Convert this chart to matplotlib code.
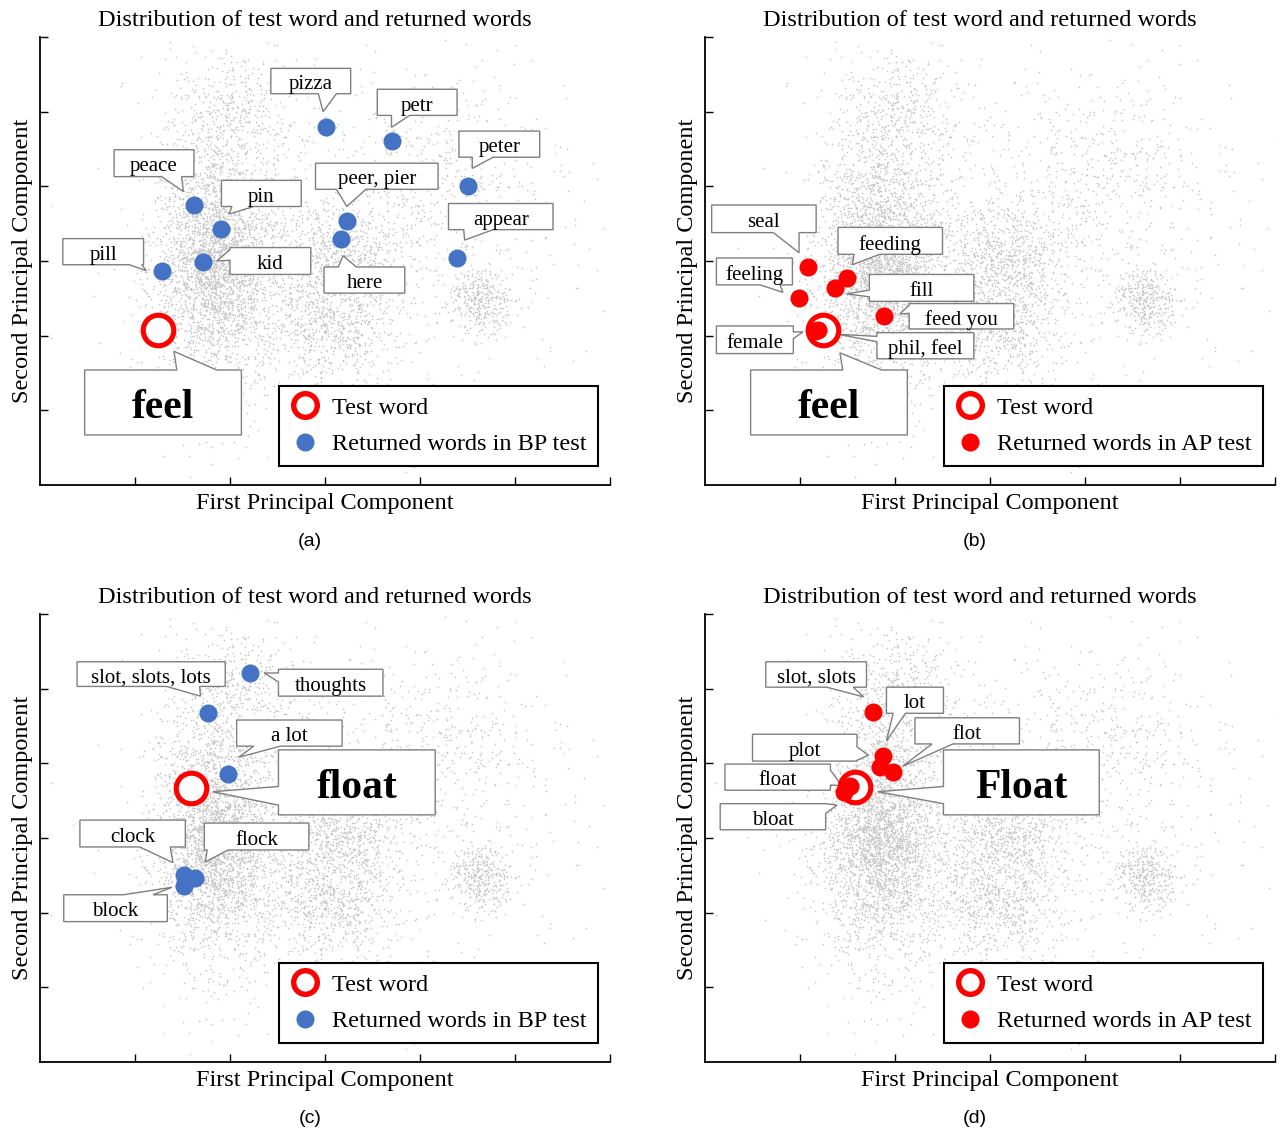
import numpy as np
import matplotlib.pyplot as plt
from matplotlib.lines import Line2D
from matplotlib.patches import Polygon

plt.rcParams['font.family'] = ['Liberation Serif', 'DejaVu Serif']

# background word cloud: cluster centres / spreads / counts in PCA space
cloud_cx = [1.85, 1.90, 3.20, 3.00, 4.65, 3.20, 4.30, 2.10]
cloud_cy = [3.10, 2.90, 3.00, 2.10, 2.45, 3.30, 4.30, 5.00]
cloud_sx = [0.35, 0.25, 0.35, 0.35, 0.18, 1.10, 0.60, 0.30]
cloud_sy = [1.00, 0.45, 0.45, 0.35, 0.22, 1.10, 0.60, 0.40]
cloud_n = [2200, 900, 750, 550, 350, 700, 350, 300]

# test words
test_a = ("feel", 1.24, 2.08)
test_b = ("feel", 1.24, 2.08)
test_c = ("float", 1.59, 3.67)
test_d = ("Float", 1.58, 3.68)

# returned words
a_words = ["pill", "kid", "peace", "pin", "pizza", "petr", "peer, pier", "here", "peter", "appear"]
a_x = [1.28, 1.72, 1.62, 1.91, 3.01, 3.70, 3.23, 3.17, 4.51, 4.39]
a_y = [2.86, 2.99, 3.75, 3.43, 4.79, 4.61, 3.53, 3.30, 4.00, 3.04]

b_words = ["seal", "feeding", "fill", "feeling", "feed you", "female", "phil, feel"]
b_x = [1.08, 1.49, 1.37, 0.99, 1.88, 1.16, 1.19]
b_y = [2.92, 2.77, 2.64, 2.50, 2.26, 2.06, 2.08]

c_words = ["thoughts", "slot, slots, lots", "a lot", "clock", "flock", "block"]
c_x = [2.21, 1.77, 1.98, 1.52, 1.63, 1.52]
c_y = [5.21, 4.68, 3.86, 2.51, 2.47, 2.36]

d_words = ["slot, slots", "lot", "plot", "flot", "float", "bloat"]
d_x = [1.77, 1.87, 1.84, 1.98, 1.53, 1.46]
d_y = [4.69, 4.10, 3.95, 3.89, 3.69, 3.61]

# callout layout: box (xl, xr, yb, yt), side of the pointer, pointer base, pointer tip
a_boxes = {
    "pizza": ((2.43, 3.27, 5.24, 5.58), "bottom", (2.93, 3.12), (2.98, 5.00)),
    "petr": ((3.55, 4.39, 4.95, 5.30), "bottom", (3.70, 3.89), (3.70, 4.79)),
    "peter": ((4.41, 5.26, 4.39, 4.74), "bottom", (4.55, 4.77), (4.55, 4.24)),
    "peer, pier": ((2.90, 4.19, 3.96, 4.31), "bottom", (3.12, 3.43), (3.23, 3.73)),
    "appear": ((4.30, 5.40, 3.42, 3.77), "bottom", (4.46, 4.77), (4.47, 3.28)),
    "here": ((2.99, 3.84, 2.57, 2.92), "top", (3.14, 3.33), (3.19, 3.07)),
    "peace": ((0.78, 1.62, 4.13, 4.49), "bottom", (1.28, 1.49), (1.51, 3.93)),
    "pin": ((1.91, 2.75, 3.73, 4.08), "bottom", (2.02, 2.25), (1.99, 3.63)),
    "pill": ((0.24, 1.09, 2.95, 3.30), "bottom", (0.94, 1.07), (1.12, 2.87)),
    "kid": ((2.00, 2.85, 2.82, 3.18), "left", (3.15, 3.01), (1.86, 3.00)),
}
a_big = ((0.47, 2.12, 0.67, 1.54), "top", (1.44, 1.86), (1.41, 1.79))

b_boxes = {
    "seal": ((0.07, 1.17, 3.38, 3.75), "bottom", (0.72, 0.99), (0.99, 3.11)),
    "feeding": ((1.40, 2.50, 3.09, 3.45), "bottom", (1.57, 1.84), (1.55, 2.95)),
    "feeling": ((0.12, 0.92, 2.68, 3.04), "bottom", (0.58, 0.79), (0.82, 2.58)),
    "fill": ((1.73, 2.83, 2.46, 2.82), "left", (2.61, 2.52), (1.49, 2.56)),
    "feed you": ((2.15, 3.25, 2.09, 2.43), "left", (2.41, 2.30), (2.05, 2.29)),
    "female": ((0.12, 0.93, 1.76, 2.13), "right", (2.05, 1.96), (1.03, 2.05)),
    "phil, feel": ((1.81, 2.83, 1.69, 2.04), "left", (1.99, 1.92), (1.39, 2.02)),
}
b_big = ((0.48, 2.13, 0.67, 1.54), "top", (1.45, 1.86), (1.42, 1.77))

c_boxes = {
    "slot, slots, lots": ((0.39, 1.95, 5.03, 5.36), "bottom", (1.33, 1.68), (1.69, 4.90)),
    "thoughts": ((2.51, 3.61, 4.90, 5.26), "left", (5.21, 5.09), (2.36, 5.21)),
    "a lot": ((2.07, 3.18, 4.23, 4.58), "bottom", (2.25, 2.53), (2.09, 4.08)),
    "clock": ((0.42, 1.53, 2.88, 3.24), "bottom", (1.05, 1.37), (1.40, 2.67)),
    "flock": ((1.73, 2.83, 2.84, 3.20), "bottom", (1.76, 1.98), (1.74, 2.68)),
    "block": ((0.25, 1.34, 1.88, 2.24), "top", (0.88, 1.19), (1.39, 2.34)),
}
c_big = ((2.51, 4.16, 3.31, 4.18), "left", (3.69, 3.44), (1.82, 3.62))

d_boxes = {
    "slot, slots": ((0.64, 1.70, 5.02, 5.36), "bottom", (1.28, 1.56), (1.67, 4.89)),
    "lot": ((1.91, 2.51, 4.67, 5.02), "bottom", (1.98, 2.11), (1.91, 4.30)),
    "flot": ((2.21, 3.31, 4.26, 4.61), "bottom", (2.39, 2.61), (2.08, 3.96)),
    "plot": ((0.50, 1.60, 4.03, 4.39), "right", (4.22, 4.04), (1.72, 4.11)),
    "float": ((0.21, 1.32, 3.64, 3.99), "right", (3.91, 3.71), (1.44, 3.70)),
    "bloat": ((0.16, 1.27, 3.11, 3.46), "right", (3.46, 3.33), (1.39, 3.44)),
}
d_big = ((2.51, 4.15, 3.31, 4.18), "left", (3.69, 3.46), (1.82, 3.62))

BLUE = '#4472C4'
RED = '#FF0000'

rng = np.random.default_rng(7)
cloud_x, cloud_y = [], []
for cx, cy, sx, sy, n in zip(cloud_cx, cloud_cy, cloud_sx, cloud_sy, cloud_n):
    cloud_x.append(rng.normal(cx, sx, n))
    cloud_y.append(rng.normal(cy, sy, n))
cloud_x = np.concatenate(cloud_x)
cloud_y = np.concatenate(cloud_y)


def callout(ax, text, box, side, base, tip, size=15, weight='normal', dy=0.05):
    xl, xr, yb, yt = box
    b1, b2 = base
    if side == 'bottom':
        verts = [(xl, yt), (xr, yt), (xr, yb), (b2, yb), tip, (b1, yb), (xl, yb)]
    elif side == 'top':
        verts = [(xl, yb), (xr, yb), (xr, yt), (b2, yt), tip, (b1, yt), (xl, yt)]
    elif side == 'left':
        verts = [(xr, yt), (xr, yb), (xl, yb), (xl, b2), tip, (xl, b1), (xl, yt)]
    else:
        verts = [(xl, yt), (xl, yb), (xr, yb), (xr, b2), tip, (xr, b1), (xr, yt)]
    ax.add_patch(Polygon(verts, closed=True, fc='white', ec='#7f7f7f', lw=1.0,
                         joinstyle='miter', zorder=3))
    ax.text((xl + xr) / 2, (yb + yt) / 2 - dy, text, ha='center', va='center',
            fontsize=size, fontweight=weight, zorder=3.5)


def panel(ax, test, words, xs, ys, boxes, big, color, method, tag):
    ax.scatter(cloud_x, cloud_y, s=1.4, c='#c6c6c6', linewidths=0, zorder=1,
               rasterized=True)
    for w in words:
        callout(ax, w, *boxes[w])
    callout(ax, test[0], *big, size=30, weight='bold', dy=0.08)
    ax.plot(test[1], test[2], 'o', ms=22, mfc='white', mec=RED, mew=3.7, zorder=4)
    ax.plot(xs, ys, 'o', ls='none', ms=13, mfc=color, mec='none', zorder=5)

    ax.set_xlim(0, 6)
    ax.set_ylim(0, 6)
    ax.set_xticks(range(1, 7))
    ax.set_yticks(range(1, 7))
    ax.tick_params(direction='in', length=6, width=1, labelbottom=False, labelleft=False)
    for s in ['top', 'right']:
        ax.spines[s].set_visible(False)
    for s in ['left', 'bottom']:
        ax.spines[s].set_linewidth(1.3)
    ax.set_title("Distribution of test word and returned words", fontsize=17.5, pad=8,
                 x=0.483)
    ax.set_xlabel("First Principal Component", fontsize=17.5, labelpad=6)
    ax.set_ylabel("Second Principal Component", fontsize=17.5, labelpad=5)

    handles = [
        Line2D([], [], marker='o', ls='none', ms=17, mfc='white', mec=RED, mew=3.9),
        Line2D([], [], marker='o', ls='none', ms=13, mfc=color, mec='none'),
    ]
    leg = ax.legend(handles, ["Test word", "Returned words in %s test" % method],
                    loc='lower right', bbox_to_anchor=(0.979, 0.042), fontsize=17.5,
                    frameon=True, fancybox=False, edgecolor='black', framealpha=1,
                    borderpad=0.45, labelspacing=0.6, handlelength=1.2,
                    handletextpad=0.55, borderaxespad=0)
    leg.get_frame().set_linewidth(1.5)
    leg.set_zorder(6)

    pos = ax.get_position()
    fig.text(pos.x0 + pos.width * 0.474, pos.y0 - 0.0496, tag, ha='center', va='center',
             fontsize=14, family='Liberation Sans')


fig = plt.figure(figsize=(12.8, 11.3), dpi=100)
W, H = 570 / 1280, 448 / 1130
ax_a = fig.add_axes([40 / 1280, 1 - 485 / 1130, W, H])
ax_b = fig.add_axes([705 / 1280, 1 - 485 / 1130, W, H])
ax_c = fig.add_axes([40 / 1280, 1 - 1062 / 1130, W, H])
ax_d = fig.add_axes([705 / 1280, 1 - 1062 / 1130, W, H])

panel(ax_a, test_a, a_words, a_x, a_y, a_boxes, a_big, BLUE, "BP", "(a)")
panel(ax_b, test_b, b_words, b_x, b_y, b_boxes, b_big, RED, "AP", "(b)")
panel(ax_c, test_c, c_words, c_x, c_y, c_boxes, c_big, BLUE, "BP", "(c)")
panel(ax_d, test_d, d_words, d_x, d_y, d_boxes, d_big, RED, "AP", "(d)")

fig.savefig("out.png", dpi=100)
